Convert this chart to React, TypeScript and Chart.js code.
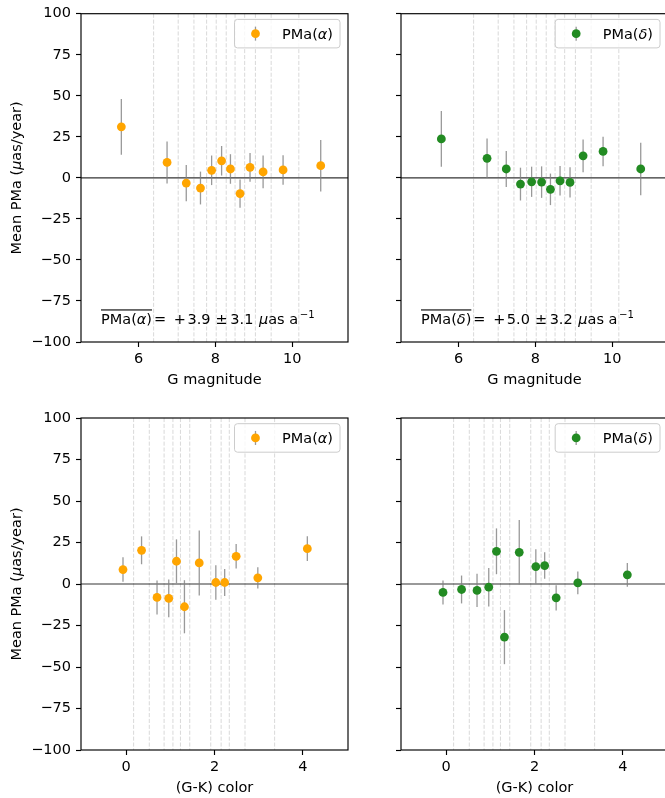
import React, { useEffect, useRef } from 'react';
import { Chart, registerables } from 'chart.js';

Chart.register(...registerables);

const FONT = '"DejaVu Sans", "Noto Sans", sans-serif';
const FS = 14.5;
const ORANGE = '#ffa500';
const GREEN = '#228b22';

// ---- top row: binned by G magnitude ----
const G_MAG = [5.55, 6.74, 7.24, 7.61, 7.9, 8.16, 8.39, 8.64, 8.9, 9.24, 9.76, 10.74];
const PMA_RA_G = [31.1, 9.4, -3.2, -6.2, 4.6, 10.4, 5.4, -9.6, 6.4, 3.6, 4.8, 7.4];
const ERR_RA_G = [17.0, 12.8, 11.0, 10.0, 9.0, 9.0, 9.0, 8.6, 8.7, 10.0, 9.0, 15.7];
const PMA_DEC_G = [23.7, 11.9, 5.4, -3.8, -2.4, -2.6, -7.0, -1.8, -2.8, 13.4, 16.1, 5.4];
const ERR_DEC_G = [17.0, 12.0, 11.0, 10.0, 9.2, 9.6, 9.6, 9.0, 9.2, 10.0, 9.0, 16.0];
const G_EDGES = [6.39, 7.03, 7.44, 7.77, 8.02, 8.28, 8.51, 8.76, 9.04, 9.45, 10.17];
const G_TICKS = [6, 8, 10];

// ---- bottom row: binned by (G-K) colour ----
const GK = [-0.07, 0.35, 0.7, 0.965, 1.14, 1.32, 1.655, 2.03, 2.23, 2.49, 2.98, 4.1];
const PMA_RA_C = [8.7, 20.3, -8.1, -8.7, 13.7, -13.7, 12.7, 0.9, 0.9, 16.7, 3.7, 21.3];
const ERR_RA_C = [7.4, 8.4, 10.2, 11.4, 13.2, 16.0, 19.6, 10.4, 8.2, 7.4, 6.4, 7.4];
const PMA_DEC_C = [-5.1, -3.3, -3.9, -1.9, 19.7, -32.0, 19.1, 10.5, 11.1, -8.3, 0.7, 5.5];
const ERR_DEC_C = [7.2, 8.4, 10.0, 11.6, 13.8, 16.3, 19.4, 10.4, 8.0, 7.6, 6.8, 7.2];
const GK_EDGES = [0.17, 0.525, 0.86, 1.06, 1.23, 1.44, 1.915, 2.15, 2.335, 2.69, 3.36];
const GK_TICKS = [0, 2, 4];

const Y_TICKS = [-100, -75, -50, -25, 0, 25, 50, 75, 100];
const MEAN_RA = [3.9, 3.1];
const MEAN_DEC = [5.0, 3.2];

type Seg = [string, boolean];

function fontStr(size: number, italic: boolean) {
  return `${italic ? 'italic ' : ''}${size}px ${FONT}`;
}
function richWidth(ctx: CanvasRenderingContext2D, segs: Seg[], size: number) {
  let w = 0;
  for (const [t, it] of segs) {
    ctx.font = fontStr(size, it);
    w += ctx.measureText(t).width;
  }
  return w;
}
function drawRich(ctx: CanvasRenderingContext2D, segs: Seg[], x: number, y: number, size: number) {
  let cx = x;
  for (const [t, it] of segs) {
    ctx.font = fontStr(size, it);
    ctx.fillText(t, cx, y);
    cx += ctx.measureText(t).width;
  }
  return cx;
}
function fmtNum(v: number) {
  return v < 0 ? '\u2212' + Math.abs(v) : String(v);
}

interface PanelCfg {
  left: number;
  top: number;
  w: number;
  h: number;
  padTop: number;
  padRight: number;
  yW: number;
  xH: number;
  xMin: number;
  xMax: number;
  xTicks: number[];
  xs: number[];
  ys: number[];
  errs: number[];
  edges: number[];
  color: string;
  greek: string;
  xTitle: string;
  showY: boolean;
  mean?: number[];
}

function Panel({ cfg }: { cfg: PanelCfg }) {
  const ref = useRef<HTMLCanvasElement>(null);
  useEffect(() => {
    const c = cfg;
    const legendSegs: Seg[] = [['PMa(', false], [c.greek, true], [')', false]];
    const plugin = {
      id: 'pmaDecor',
      beforeDatasetsDraw(chart: any) {
        const { ctx, chartArea: a, scales } = chart;
        const xs = scales.x;
        const ys = scales.y;
        ctx.save();
        // bin edges
        ctx.strokeStyle = 'rgba(128,128,128,0.38)';
        ctx.lineWidth = 0.8;
        ctx.setLineDash([4.1, 1.8]);
        for (const e of c.edges) {
          const px = xs.getPixelForValue(e);
          ctx.beginPath();
          ctx.moveTo(px, a.top);
          ctx.lineTo(px, a.bottom);
          ctx.stroke();
        }
        ctx.setLineDash([]);
        // zero line
        const y0 = ys.getPixelForValue(0);
        ctx.strokeStyle = 'rgba(0,0,0,0.8)';
        ctx.lineWidth = 1.1;
        ctx.beginPath();
        ctx.moveTo(a.left, y0);
        ctx.lineTo(a.right, y0);
        ctx.stroke();
        // error bars
        ctx.strokeStyle = 'rgba(128,128,128,0.8)';
        ctx.lineWidth = 1.3;
        c.xs.forEach((xv, i) => {
          const px = xs.getPixelForValue(xv);
          ctx.beginPath();
          ctx.moveTo(px, ys.getPixelForValue(c.ys[i] - c.errs[i]));
          ctx.lineTo(px, ys.getPixelForValue(c.ys[i] + c.errs[i]));
          ctx.stroke();
        });
        ctx.restore();
      },
      afterDraw(chart: any) {
        const { ctx, chartArea: a } = chart;
        ctx.save();
        // spines
        ctx.strokeStyle = '#000';
        ctx.lineWidth = 1.15;
        ctx.strokeRect(a.left, a.top, a.right - a.left, a.bottom - a.top);

        // legend
        const tw = richWidth(ctx, legendSegs, FS);
        const lw = 47.5 + tw + 7;
        const lh = 28.5;
        const bx = a.right - 8 - lw;
        const by = a.top + 5.7;
        ctx.beginPath();
        (ctx as any).roundRect(bx, by, lw, lh, 3);
        ctx.fillStyle = 'rgba(255,255,255,0.8)';
        ctx.fill();
        ctx.strokeStyle = '#cccccc';
        ctx.lineWidth = 1;
        ctx.stroke();
        const mx = bx + 21;
        const my = by + lh / 2;
        ctx.strokeStyle = 'rgba(128,128,128,0.8)';
        ctx.lineWidth = 1.3;
        ctx.beginPath();
        ctx.moveTo(mx, my - 7);
        ctx.lineTo(mx, my + 7);
        ctx.stroke();
        ctx.fillStyle = c.color;
        ctx.beginPath();
        ctx.arc(mx, my, 4.4, 0, Math.PI * 2);
        ctx.fill();
        ctx.fillStyle = '#000';
        ctx.textBaseline = 'alphabetic';
        ctx.textAlign = 'left';
        drawRich(ctx, legendSegs, bx + 47.5, my + 5.5, FS);

        // annotation
        if (c.mean) {
          const ax = a.left + 20;
          const base = a.bottom - 18;
          const end = drawRich(ctx, legendSegs, ax, base, FS);
          ctx.fillRect(ax, base - 14.6, end - ax, 1.1);
          ctx.font = fontStr(FS, false);
          ctx.fillText('=', end + 2.0, base);
          ctx.fillText(c.mean[0] >= 0 ? '+' : '\u2212', end + 21.8, base);
          ctx.fillText(Math.abs(c.mean[0]).toFixed(1), end + 35.5, base);
          ctx.fillText('\u00b1', end + 63.6, base);
          ctx.fillText(c.mean[1].toFixed(1), end + 78.3, base);
          let cx = drawRich(ctx, [['\u03bc', true], ['as', false]], end + 107.0, base, FS);
          ctx.font = fontStr(FS, false);
          cx += 4.6;
          ctx.fillText('a', cx, base);
          cx += ctx.measureText('a').width + 1.6;
          ctx.font = fontStr(FS * 0.7, false);
          ctx.fillText('\u22121', cx, base - 6);
        }

        // x title
        ctx.font = fontStr(FS, false);
        ctx.textAlign = 'center';
        ctx.fillText(c.xTitle, (a.left + a.right) / 2, a.bottom + 42);

        // y title
        if (c.showY) {
          const ySegs: Seg[] = [['Mean PMa (', false], ['\u03bc', true], ['as/year)', false]];
          const yw = richWidth(ctx, ySegs, FS);
          ctx.save();
          ctx.translate(21, (a.top + a.bottom) / 2);
          ctx.rotate(-Math.PI / 2);
          ctx.textAlign = 'left';
          drawRich(ctx, ySegs, -yw / 2, 0, FS);
          ctx.restore();
        }
        ctx.restore();
      },
    };

    const chart = new Chart(ref.current as HTMLCanvasElement, {
      type: 'scatter',
      data: {
        datasets: [
          {
            data: c.xs.map((x, i) => ({ x, y: c.ys[i] })),
            backgroundColor: c.color,
            borderWidth: 0,
            pointRadius: 4.4,
            pointHoverRadius: 4.4,
          },
        ],
      },
      options: {
        animation: false,
        responsive: false,
        events: [],
        layout: { padding: { top: c.padTop, right: c.padRight, left: 0, bottom: 0 } },
        plugins: { legend: { display: false }, tooltip: { enabled: false } },
        scales: {
          x: {
            type: 'linear',
            min: c.xMin,
            max: c.xMax,
            afterBuildTicks: (s: any) => {
              s.ticks = c.xTicks.map((v) => ({ value: v }));
            },
            afterFit: (s: any) => {
              s.height = c.xH;
            },
            ticks: {
              font: { family: FONT, size: FS },
              color: '#000',
              padding: 4,
              maxRotation: 0,
              autoSkip: false,
            },
            grid: {
              drawOnChartArea: false,
              drawTicks: true,
              tickLength: 5,
              tickColor: '#000',
              tickWidth: 1.15,
            },
            border: { display: false },
          },
          y: {
            type: 'linear',
            min: -100,
            max: 100,
            afterBuildTicks: (s: any) => {
              s.ticks = Y_TICKS.map((v) => ({ value: v }));
            },
            afterFit: (s: any) => {
              s.width = c.yW;
            },
            ticks: {
              font: { family: FONT, size: FS },
              color: '#000',
              padding: 5,
              autoSkip: false,
              callback: (v: any) => (c.showY ? fmtNum(Number(v)) : ''),
            },
            grid: {
              drawOnChartArea: false,
              drawTicks: true,
              tickLength: 5,
              tickColor: '#000',
              tickWidth: 1.15,
            },
            border: { display: false },
          },
        },
      } as any,
      plugins: [plugin],
    });
    return () => chart.destroy();
  }, [cfg]);
  return (
    <canvas
      ref={ref}
      width={cfg.w}
      height={cfg.h}
      style={{ position: 'absolute', left: cfg.left, top: cfg.top, width: cfg.w, height: cfg.h }}
    />
  );
}

const TOP_X = { xMin: 4.5, xMax: 11.45, xTicks: G_TICKS, edges: G_EDGES, xTitle: 'G magnitude' };
const BOT_X = { xMin: -1.02, xMax: 5.02, xTicks: GK_TICKS, edges: GK_EDGES, xTitle: '(G-K) color' };

const PANELS: PanelCfg[] = [
  {
    left: 0, top: 0, w: 374, h: 400, padTop: 10, padRight: 26, yW: 81, xH: 58,
    ...TOP_X, xs: G_MAG, ys: PMA_RA_G, errs: ERR_RA_G, color: ORANGE, greek: '\u03b1',
    showY: true, mean: MEAN_RA,
  },
  {
    left: 374, top: 0, w: 300, h: 400, padTop: 10, padRight: 6, yW: 27, xH: 58,
    ...TOP_X, xs: G_MAG, ys: PMA_DEC_G, errs: ERR_DEC_G, color: GREEN, greek: '\u03b4',
    showY: false, mean: MEAN_DEC,
  },
  {
    left: 0, top: 400, w: 374, h: 398, padTop: 18, padRight: 26, yW: 81, xH: 48,
    ...BOT_X, xs: GK, ys: PMA_RA_C, errs: ERR_RA_C, color: ORANGE, greek: '\u03b1',
    showY: true,
  },
  {
    left: 374, top: 400, w: 300, h: 398, padTop: 18, padRight: 6, yW: 27, xH: 48,
    ...BOT_X, xs: GK, ys: PMA_DEC_C, errs: ERR_DEC_C, color: GREEN, greek: '\u03b4',
    showY: false,
  },
];

export default function App() {
  return (
    <div
      style={{
        position: 'absolute',
        left: 0,
        top: 0,
        width: 665,
        height: 798,
        overflow: 'hidden',
        background: '#fff',
      }}
    >
      {PANELS.map((p, i) => (
        <Panel key={i} cfg={p} />
      ))}
    </div>
  );
}
